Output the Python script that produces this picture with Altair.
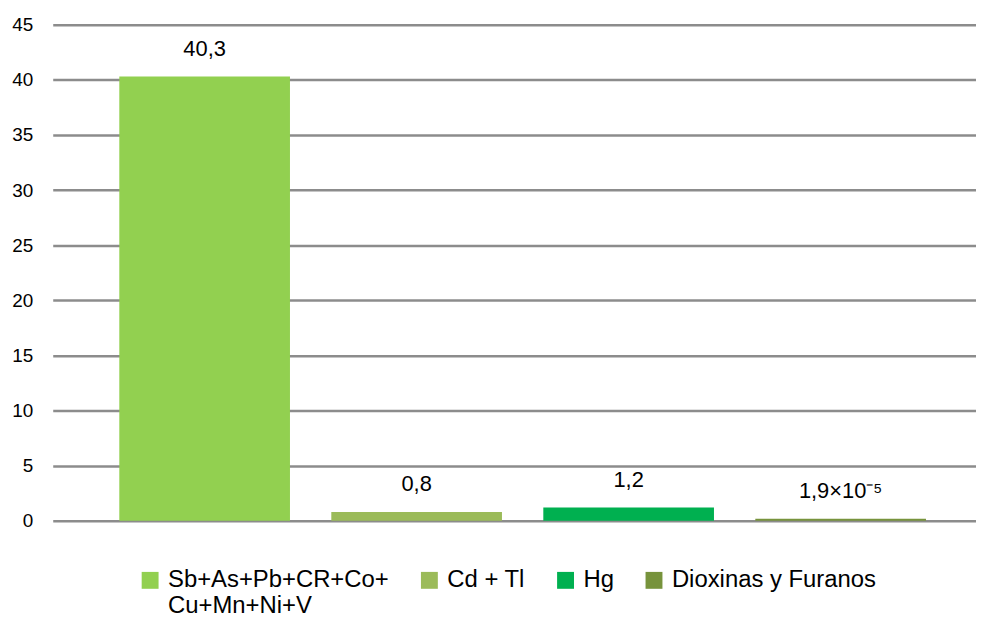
import altair as alt
import pandas as pd

# ---- data ----
categories = ["Sb+As+Pb+CR+Co+Cu+Mn+Ni+V", "Cd + Tl", "Hg", "Dioxinas y Furanos"]
bar_values = [40.3, 0.8, 1.2, 0.18]          # last bar is barely visible (1.9e-5)
value_labels = ["40,3", "0,8", "1,2", "1,9×10⁻⁵"]
colors = ["#92D050", "#9BBB59", "#00B050", "#77933C"]
y_ticks = [0, 5, 10, 15, 20, 25, 30, 35, 40, 45]

df = pd.DataFrame({"cat": categories, "value": bar_values, "label": value_labels})

FONT = "Liberation Sans, Arial, sans-serif"
NB = "\u00a0"

# every label has two lines so all entries share the same vertical layout
legend_expr = (
    "datum.label == 'Sb+As+Pb+CR+Co+Cu+Mn+Ni+V' ? "
    "['Sb+As+Pb+CR+Co+', '" + NB * 5 + "Cu+Mn+Ni+V'] : [datum.label, '']"
)

x_enc = alt.X(
    "cat:N",
    sort=categories,
    scale=alt.Scale(paddingInner=0.195, paddingOuter=0.275, align=0.571),
    axis=None,
)

bars = alt.Chart(df).mark_bar().encode(
    x=x_enc,
    y=alt.Y(
        "value:Q",
        scale=alt.Scale(domain=[0, 45], nice=False),
        axis=alt.Axis(
            values=y_ticks,
            title=None,
            grid=True,
            gridColor="#8c8c8c",
            gridWidth=2.5,
            domain=False,
            ticks=False,
            labelFont=FONT,
            labelFontSize=19,
            labelColor="#000000",
            labelPadding=20,
        ),
    ),
    color=alt.Color(
        "cat:N",
        sort=categories,
        scale=alt.Scale(domain=categories, range=colors),
        legend=alt.Legend(
            title=None,
            orient="none",
            direction="horizontal",
            legendX=86,
            legendY=547,
            symbolType="square",
            symbolSize=289,
            symbolStrokeWidth=0,
            symbolOpacity=1,
            labelFont=FONT,
            labelFontSize=24,
            labelColor="#000000",
            labelOffset=6,
            labelBaseline="middle",
            labelExpr=legend_expr,
            labelLimit=400,
            columnPadding=28,
            padding=0,
        ),
    ),
)

texts = alt.Chart(df).mark_text(
    baseline="middle", dy=-28, font=FONT, fontSize=22, color="#000000"
).encode(
    x=x_enc,
    y=alt.Y("value:Q"),
    text="label:N",
)

chart = (
    alt.layer(bars, texts)
    .properties(
        width=929,
        height=499,
        autosize=alt.AutoSizeParams(type="none"),
        padding={"left": 45, "top": 15, "right": 0, "bottom": 98},
        background="white",
    )
    .configure_view(stroke=None)
)

chart.save("out.html", embed_options={"renderer": "svg", "actions": False})
